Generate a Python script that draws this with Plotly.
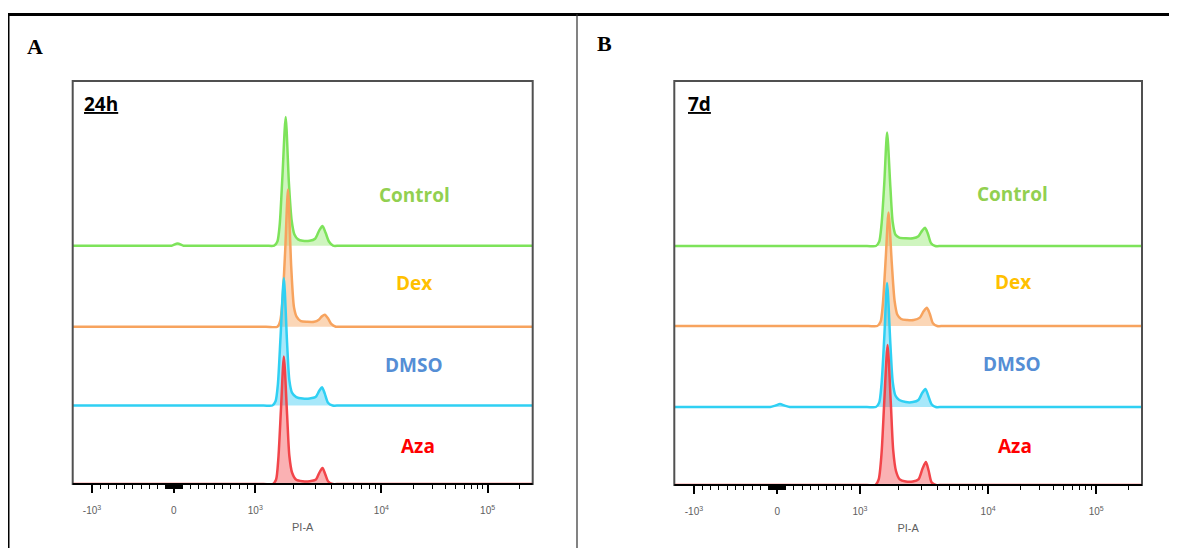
import numpy as np
import plotly.graph_objects as go

# page has an 8px body margin: the figure is sized/positioned to fit the 1177x548 window
PAGE_OFF = 8
W, H = 1177 - PAGE_OFF, 548 - PAGE_OFF

# ---------------- data ----------------
samples = ["Control", "Dex", "DMSO", "Aza"]
label_colors = ["#92D050", "#FFC000", "#558ED5", "#FF0000"]
line_colors = ["#7DE35A", "#F7A35E", "#2FD0F3", "#F2454A"]
fill_colors = ["rgba(135,230,95,0.40)", "rgba(247,163,94,0.45)",
               "rgba(47,200,243,0.42)", "rgba(242,69,74,0.42)"]

# x = display channel (0-1000 on the biexponential PI-A scale), y = % of max
# Panel A (24h)
a_control_x = [0, 100, 200, 215, 228, 241, 256, 350, 420, 438, 445, 450, 456, 463, 470, 476, 482, 490, 500, 515, 527, 536, 543, 550, 557, 566, 580, 700, 850, 1000]
a_control_y = [0, 0, 0, 0, 1.5, 0, 0, 0, 0, 0, 3, 15, 50, 92, 45, 18, 8, 4.5, 3.5, 3.5, 5, 11, 14, 9, 3, 0, 0, 0, 0, 0]
a_dex_x = [0, 150, 300, 420, 445, 451, 456, 462, 468, 475, 481, 487, 496, 510, 525, 535, 542, 548, 555, 562, 572, 586, 700, 850, 1000]
a_dex_y = [0, 0, 0, 0, 0, 4, 18, 55, 98, 43, 14, 7, 4, 3.5, 3.5, 5, 7.5, 8.6, 6, 2, 0, 0, 0, 0, 0]
a_dmso_x = [0, 150, 300, 415, 434, 441, 446, 452, 459, 466, 471, 477, 486, 500, 515, 528, 536, 542, 548, 555, 565, 580, 700, 850, 1000]
a_dmso_y = [0, 0, 0, 0, 0, 3, 15, 50, 91, 45, 18, 9, 6, 5, 5, 6, 10.5, 13, 8.5, 2, 0, 0, 0, 0, 0]
a_aza_x = [0, 150, 300, 415, 435, 442, 447, 453, 459, 466, 471, 477, 486, 500, 515, 528, 536, 543, 549, 555, 565, 580, 700, 850, 1000]
a_aza_y = [0, 0, 0, 0, 0, 3, 18, 55, 91, 50, 20, 8, 3, 2, 2, 3, 8, 11.4, 7, 2, 0, 0, 0, 0, 0]

# Panel B (7d)
b_control_x = [0, 150, 300, 412, 431, 438, 443, 449, 455, 462, 467, 473, 481, 495, 510, 522, 530, 536, 542, 549, 558, 572, 700, 850, 1000]
b_control_y = [0, 0, 0, 0, 0, 3, 15, 45, 81, 42, 17, 8, 6, 5.5, 5.5, 7, 11, 13, 9, 2, 0, 0, 0, 0, 0]
b_dex_x = [0, 150, 300, 415, 434, 441, 446, 452, 458, 465, 471, 477, 485, 498, 512, 525, 533, 540, 546, 553, 562, 576, 700, 850, 1000]
b_dex_y = [0, 0, 0, 0, 0, 3, 16, 48, 81, 45, 18, 8, 5, 4.3, 4.3, 6, 10.5, 13, 9, 2, 0, 0, 0, 0, 0]
b_dmso_x = [0, 100, 190, 205, 216, 226, 236, 247, 262, 350, 412, 431, 438, 443, 449, 455, 462, 467, 473, 481, 495, 510, 522, 530, 537, 543, 550, 559, 573, 700, 850, 1000]
b_dmso_y = [0, 0, 0, 0, 1, 2.1, 1, 0, 0, 0, 0, 0, 3, 16, 50, 88.6, 45, 18, 8, 5, 3.5, 3.5, 5, 10, 12.9, 8, 2, 0, 0, 0, 0, 0]
b_aza_x = [0, 150, 300, 412, 430, 437, 443, 449, 456, 463, 468, 474, 482, 495, 510, 522, 531, 538, 544, 550, 559, 573, 700, 850, 1000]
b_aza_y = [0, 0, 0, 0, 0, 4, 22, 60, 100, 58, 25, 10, 4, 2.5, 2.5, 4, 12, 16.4, 10, 2, 0, 0, 0, 0, 0]

panel_titles = ["24h", "7d"]
panel_letters = ["A", "B"]

# axis ticks (PI-A values, their display-channel positions, labels)
tick_values = [-1000, 0, 1000, 10000, 100000]
tick_channels = [42, 220, 397, 671, 902]
tick_labels = ["-10<sup>3</sup>", "0", "10<sup>3</sup>", "10<sup>4</sup>", "10<sup>5</sup>"]
minor_values = ([-v for v in range(900, 99, -100)] + [-v for v in range(90, 9, -10)] +
                list(range(10, 100, 10)) + list(range(100, 1000, 100)) +
                list(range(2000, 10000, 1000)) + list(range(20000, 100000, 10000)) + [200000])


def to_channel(v):
    if v <= 1000:
        return float(np.interp(v, tick_values[:3], tick_channels[:3]))
    lg = np.log10(v)
    if lg <= 5:
        return float(np.interp(lg, [3, 4, 5], tick_channels[2:]))
    return tick_channels[4] + (lg - 5) * (tick_channels[4] - tick_channels[3])


minor_channels = [to_channel(v) for v in minor_values]

panels = [
    [(a_control_x, a_control_y), (a_dex_x, a_dex_y), (a_dmso_x, a_dmso_y), (a_aza_x, a_aza_y)],
    [(b_control_x, b_control_y), (b_dex_x, b_dex_y), (b_dmso_x, b_dmso_y), (b_aza_x, b_aza_y)],
]


# ---------------- layout geometry (window pixels) ----------------
def px(x):
    return (x - PAGE_OFF) / W


def py(y):
    return 1 - (y - PAGE_OFF) / H


box = [dict(l=72.7, r=532.7, t=81, b=484), dict(l=674.3, r=1142, t=81, b=485)]
baselines = [[245.7, 326.7, 405.5, 484], [246, 326, 407, 485]]
px_per_unit = 1.4
label_pos = [[(414, 195), (414, 283), (414, 365), (418, 446)],
             [(1012, 194), (1013, 282), (1012, 364), (1015, 446)]]
title_pos = [(82, 104), (686, 104)]
letter_pos = [(35, 46), (604, 44)]

fig = go.Figure()
layout = dict(width=W, height=H, margin=dict(l=0, r=0, t=0, b=0), autosize=False,
              paper_bgcolor="white", plot_bgcolor="white", showlegend=False)
shapes, annotations = [], []

yi = 1
for p in range(2):
    bx = box[p]
    xname = "xaxis" if p == 0 else "xaxis2"
    xref = "x" if p == 0 else "x2"
    plot_h = bx["b"] - bx["t"]
    layout[xname] = dict(
        domain=[px(bx["l"]), px(bx["r"])], range=[0, 1000], anchor="y" if p == 0 else "y5",
        showgrid=False, zeroline=False, showline=False,
        ticks="outside", ticklen=8, tickwidth=1.5, tickcolor="black",
        tickmode="array", tickvals=tick_channels, ticktext=tick_labels,
        ticklabelstandoff=9,
        tickfont=dict(family="Liberation Sans", size=10, color="#606060"),
        minor=dict(tickmode="array", tickvals=minor_channels, ticks="outside",
                   ticklen=4, tickwidth=1.2, tickcolor="black", showgrid=False),
        title=dict(text="PI-A", font=dict(family="Liberation Sans", size=11, color="#606060"),
                   standoff=8),
        fixedrange=True,
    )
    first_y = yi
    for s in range(4):
        x, y = panels[p][s]
        d = bx["b"] - baselines[p][s]
        ykey = "yaxis" if yi == 1 else f"yaxis{yi}"
        yax = dict(range=[-d / px_per_unit, (plot_h - d) / px_per_unit], showgrid=False,
                   zeroline=False, showticklabels=False, ticks="", showline=False,
                   anchor=xref, fixedrange=True)
        if s == 0:
            yax["domain"] = [py(bx["b"]), py(bx["t"])]
        else:
            yax["overlaying"] = "y" if first_y == 1 else f"y{first_y}"
        layout[ykey] = yax
        fig.add_trace(go.Scatter(
            x=x, y=y, mode="lines",
            line=dict(color=line_colors[s], width=2.5, shape="spline", smoothing=0.7),
            fill="tozeroy", fillcolor=fill_colors[s], xaxis=xref,
            yaxis="y" if yi == 1 else f"y{yi}", hoverinfo="skip", name=samples[s]))
        lx, ly = label_pos[p][s]
        annotations.append(dict(x=px(lx), y=py(ly), xref="paper", yref="paper", text=f"<b>{samples[s]}</b>",
                                showarrow=False, xanchor="center", yanchor="middle",
                                font=dict(family="Open Sans", size=19, color=label_colors[s])))
        yi += 1
    # plot box (grey) and black bottom axis line, drawn above the traces
    shapes.append(dict(type="rect", xref="paper", yref="paper", x0=px(bx["l"]), x1=px(bx["r"]),
                       y0=py(bx["b"]), y1=py(bx["t"]), line=dict(color="#505050", width=2),
                       layer="above"))
    shapes.append(dict(type="line", xref="paper", yref="paper", x0=px(bx["l"]), x1=px(bx["r"]),
                       y0=py(bx["b"]), y1=py(bx["b"]), line=dict(color="black", width=2),
                       layer="above"))
    tx, ty = title_pos[p]
    annotations.append(dict(x=px(tx), y=py(ty), xref="paper", yref="paper",
                            text=f"<b><u>{panel_titles[p]}</u></b>", showarrow=False,
                            xanchor="left", yanchor="middle",
                            font=dict(family="Open Sans", size=19, color="black")))
    lx, ly = letter_pos[p]
    annotations.append(dict(x=px(lx), y=py(ly), xref="paper", yref="paper",
                            text=f"<b>{panel_letters[p]}</b>", showarrow=False,
                            xanchor="center", yanchor="middle",
                            font=dict(family="Liberation Serif", size=22, color="black")))

# outer figure frame
shapes.append(dict(type="line", xref="paper", yref="paper", x0=0, x1=1, y0=py(14.5), y1=py(14.5),
                   line=dict(color="black", width=3)))
shapes.append(dict(type="line", xref="paper", yref="paper", x0=0, x1=0, y0=0, y1=py(13),
                   line=dict(color="black", width=3)))
shapes.append(dict(type="line", xref="paper", yref="paper", x0=px(577), x1=px(577), y0=0, y1=py(14),
                   line=dict(color="#303030", width=1.2)))

layout["shapes"] = shapes
layout["annotations"] = annotations
fig.update_layout(**layout)
fig.write_html("out.html")
